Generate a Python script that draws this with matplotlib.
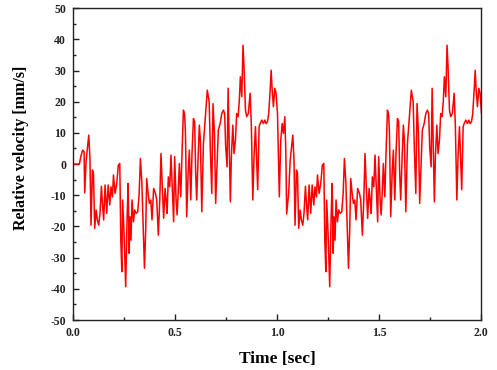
"""
    Relative velocity vs time, two cycles of a noisy periodic signal.
"""

import matplotlib
matplotlib.use("Agg")
import matplotlib.pyplot as plt
from matplotlib.ticker import MultipleLocator

# first cycle (time in sec, velocity in mm/s)
cycle_t = [0.000, 0.031, 0.038, 0.047, 0.054, 0.057, 0.064, 0.077, 0.083, 0.088,
           0.095, 0.100, 0.106, 0.113, 0.119, 0.126, 0.132, 0.139, 0.145, 0.150,
           0.157, 0.165, 0.172, 0.180, 0.186, 0.193, 0.198, 0.206, 0.214, 0.222,
           0.229, 0.234, 0.239, 0.243, 0.250, 0.258, 0.265, 0.270, 0.275, 0.279,
           0.284, 0.289, 0.296, 0.302, 0.309, 0.317, 0.324, 0.330, 0.337, 0.345,
           0.350, 0.356, 0.361, 0.368, 0.374, 0.381, 0.387, 0.395, 0.404, 0.410,
           0.418, 0.425, 0.431, 0.438, 0.444, 0.451, 0.456, 0.461, 0.467, 0.474,
           0.480, 0.489, 0.493, 0.498, 0.505, 0.510, 0.516, 0.521, 0.528, 0.534,
           0.541, 0.547, 0.551, 0.557, 0.564, 0.570, 0.577, 0.583, 0.590, 0.596,
           0.601, 0.606, 0.613, 0.619, 0.624, 0.631, 0.639, 0.645, 0.652, 0.658,
           0.667, 0.673, 0.680, 0.686, 0.693, 0.699, 0.706, 0.712, 0.721, 0.729,
           0.737, 0.743, 0.748, 0.755, 0.760, 0.765, 0.771, 0.776, 0.783, 0.789,
           0.796, 0.802, 0.809, 0.815, 0.820, 0.827, 0.833, 0.838, 0.845, 0.851,
           0.859, 0.868, 0.874, 0.881, 0.887, 0.894, 0.900, 0.905, 0.912, 0.917,
           0.925, 0.933, 0.940, 0.946, 0.953, 0.959, 0.966, 0.971, 0.975, 0.982,
           0.989, 0.995, 1.002]
cycle_v = [0.0, 0.0, 2.4, 4.5, 4.0, -9.2, 1.0, 9.3, 1.3, -19.6,
           -1.9, -3.0, -20.6, -14.7, -17.9, -19.6, -15.8, -7.1, -13.7, -17.9,
           -6.7, -15.8, -6.7, -13.1, -7.3, -10.5, -3.5, -9.4, -6.2, -0.3,
           0.2, -24.4, -34.5, -11.5, -22.2, -39.3, -16.9, -6.2, -28.6, -16.9,
           -24.4, -11.5, -18.5, -14.7, -15.8, -15.3, -9.4, 1.8, -5.7, -22.2,
           -33.4, -21.2, -4.6, -9.4, -12.6, -11.5, -17.9, -7.8, -9.4, -11.5,
           -22.8, -11.5, 3.4, -8.3, -17.4, -7.8, -11.5, -15.8, -4.1, -7.3,
           2.9, -11.5, -18.5, 2.4, -11.5, -16.3, -8.3, 0.2, -10.5, 3.4,
           17.3, 15.7, 9.8, -16.9, -3.0, 4.5, -11.5, 3.4, 14.6, 13.6,
           -3.0, -11.5, 2.4, 12.5, 7.7, -15.3, 6.6, 12.0, 18.4, 23.7,
           20.0, 4.5, -9.4, 19.4, 9.8, -12.6, 0.2, 10.9, 13.0, 16.2,
           17.3, 16.2, 5.6, -0.9, 24.3, 7.7, -12.1, 2.4, 12.5, 3.4,
           7.7, 16.2, 15.2, 20.5, 28.0, 21.6, 38.1, 31.2, 17.3, 15.2,
           16.2, 22.7, 12.0, -11.5, 2.4, 12.0, 1.3, -8.2, 12.0, 13.0,
           14.1, 13.0, 14.1, 13.0, 13.6, 16.2, 23.7, 30.1, 24.8, 18.4,
           24.3, 22.7, 16.2]

# start of the second cycle (the first one starts from rest)
join_t = [1.011, 1.018, 1.025, 1.031, 1.038, 1.043, 1.047]
join_v = [-10.5, 7.7, 13.0, 9.8, 15.2, 3.4, -16.0]

# the rest of the second cycle repeats the first one after 0.05 s
repeat_from = 5
time_s = cycle_t + join_t + [t + 1.0 for t in cycle_t[repeat_from:]]
velocity = cycle_v + join_v + cycle_v[repeat_from:]


def main() -> None:
    plt.rcParams['font.family'] = ['Liberation Serif', 'DejaVu Serif']
    plt.rcParams['font.weight'] = 'bold'
    plt.rcParams['axes.unicode_minus'] = False

    fig = plt.figure(figsize=(4.97, 3.70), dpi=100)
    ax = fig.add_axes([0.147, 0.135, 0.821, 0.843])

    ax.plot(time_s, velocity, color='#ff0000', linewidth=1.1)

    ax.set_xlim(0.0, 2.0)
    ax.set_ylim(-50, 50)
    ax.xaxis.set_major_locator(MultipleLocator(0.5))
    ax.xaxis.set_minor_locator(MultipleLocator(0.25))
    ax.yaxis.set_major_locator(MultipleLocator(10))
    ax.yaxis.set_minor_locator(MultipleLocator(5))
    ax.xaxis.set_major_formatter(plt.FormatStrFormatter('%.1f'))

    ax.tick_params(which='both', direction='in', top=False, right=False,
                   labelsize=8.5, width=1.0, colors='#222222')
    ax.tick_params(which='major', length=4)
    ax.tick_params(which='minor', length=2.5)
    ax.tick_params(axis='x', pad=5)
    ax.tick_params(axis='y', pad=5)
    for lab in ax.get_xticklabels() + ax.get_yticklabels():
        lab.set_fontweight('bold')

    for sp in ax.spines.values():
        sp.set_linewidth(1.0)
        sp.set_color('#222222')

    ax.set_xlabel('Time [sec]', fontsize=12.5, fontweight='bold')
    ax.set_ylabel('Relative velocity [mm/s]', fontsize=11.5, fontweight='bold')
    ax.xaxis.set_label_coords(0.5, -0.099)
    ax.yaxis.set_label_coords(-0.108, 0.551)

    fig.savefig('out.png', dpi=100)


if __name__ == "__main__":
    main()
